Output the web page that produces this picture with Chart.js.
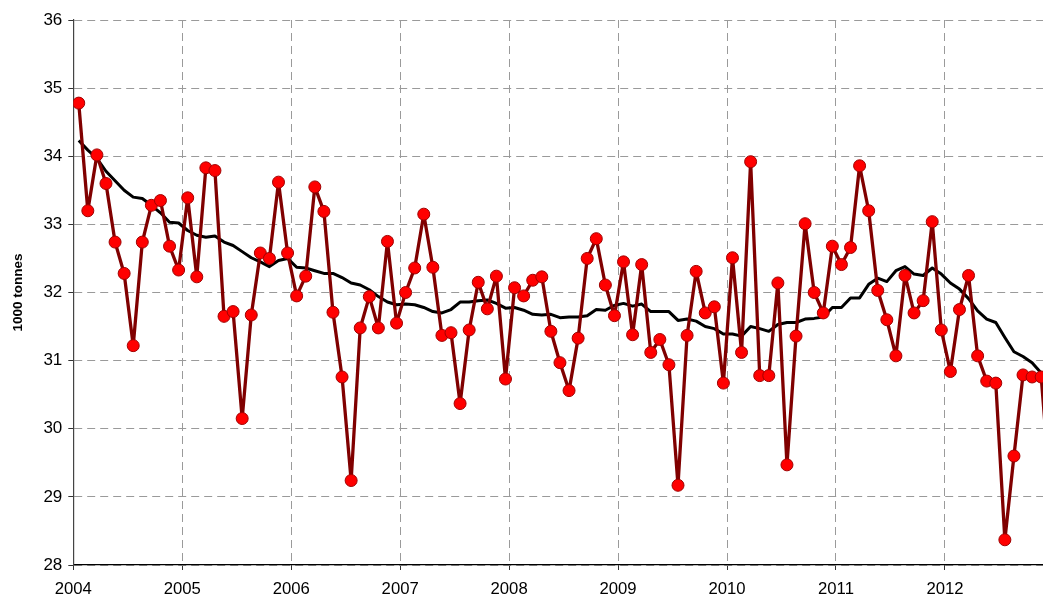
<!DOCTYPE html>
<html>
<head>
<meta charset="utf-8">
<title>1000 tonnes</title>
<script src="https://cdn.jsdelivr.net/npm/chart.js@4/dist/chart.umd.min.js"></script>
<style>
  html, body { margin: 0; padding: 0; background: #fff; }
  #wrap { width: 1043px; height: 599px; }
</style>
</head>
<body>
<div id="wrap"><canvas id="chart" width="1043" height="599"></canvas></div>
<script>
// monthly values, Jan 2004 .. Dec 2012
const monthly2004 = [34.78, 33.20, 34.02, 33.60, 32.74, 32.28, 31.22, 32.74, 33.28, 33.35, 32.68, 32.33];
const monthly2005 = [33.39, 32.23, 33.83, 33.79, 31.65, 31.72, 30.15, 31.67, 32.58, 32.50, 33.62, 32.58];
const monthly2006 = [31.95, 32.24, 33.55, 33.19, 31.71, 30.76, 29.24, 31.48, 31.94, 31.48, 32.75, 31.55];
const monthly2007 = [32.00, 32.36, 33.15, 32.37, 31.37, 31.41, 30.37, 31.45, 32.15, 31.76, 32.24, 30.73];
const monthly2008 = [32.07, 31.95, 32.18, 32.23, 31.43, 30.97, 30.56, 31.33, 32.50, 32.79, 32.11, 31.66];
const monthly2009 = [32.45, 31.38, 32.41, 31.12, 31.31, 30.94, 29.17, 31.37, 32.31, 31.70, 31.79, 30.67];
const monthly2010 = [32.51, 31.12, 33.92, 30.78, 30.78, 32.14, 29.47, 31.36, 33.01, 32.00, 31.70, 32.68];
const monthly2011 = [32.41, 32.66, 33.86, 33.20, 32.03, 31.60, 31.07, 32.25, 31.70, 31.88, 33.04, 31.45];
const monthly2012 = [30.84, 31.75, 32.25, 31.07, 30.70, 30.67, 28.37, 29.60, 30.79, 30.76, 30.76, 29.10];

// the black trend line
const trend2004 = [34.23, 34.09, 33.97, 33.78, 33.64, 33.50, 33.40, 33.38, 33.28, 33.17, 33.03, 33.02];
const trend2005 = [32.91, 32.84, 32.81, 32.83, 32.74, 32.69, 32.60, 32.51, 32.45, 32.38, 32.47, 32.50];
const trend2006 = [32.37, 32.36, 32.32, 32.28, 32.28, 32.22, 32.14, 32.11, 32.04, 31.94, 31.86, 31.82];
const trend2007 = [31.83, 31.82, 31.78, 31.72, 31.70, 31.75, 31.86, 31.86, 31.88, 31.89, 31.84, 31.77];
const trend2008 = [31.78, 31.74, 31.68, 31.67, 31.68, 31.63, 31.64, 31.64, 31.66, 31.75, 31.74, 31.81];
const trend2009 = [31.84, 31.80, 31.83, 31.72, 31.72, 31.72, 31.59, 31.61, 31.58, 31.50, 31.47, 31.39];
const trend2010 = [31.39, 31.36, 31.50, 31.47, 31.43, 31.53, 31.56, 31.56, 31.61, 31.62, 31.64, 31.78];
const trend2011 = [31.78, 31.92, 31.92, 32.12, 32.21, 32.16, 32.32, 32.38, 32.27, 32.25, 32.36, 32.27];
const trend2012 = [32.14, 32.05, 31.91, 31.73, 31.61, 31.56, 31.34, 31.13, 31.06, 30.97, 30.82, null];

const years = [2004, 2005, 2006, 2007, 2008, 2009, 2010, 2011, 2012];
const yTicks = [28, 29, 30, 31, 32, 33, 34, 35, 36];

const monthly = [].concat(monthly2004, monthly2005, monthly2006, monthly2007, monthly2008,
  monthly2009, monthly2010, monthly2011, monthly2012);
const trend = [].concat(trend2004, trend2005, trend2006, trend2007, trend2008,
  trend2009, trend2010, trend2011, trend2012);

// each month sits a bit after the start of its month on the year axis
const toPoints = (arr) => arr.map((v, i) => ({ x: 2004 + (i + 0.6) / 12, y: v }));

const FONT = "'Liberation Sans', Arial, sans-serif";

new Chart(document.getElementById("chart"), {
  type: "line",
  data: {
    datasets: [
      {
        label: "monthly",
        data: toPoints(monthly),
        borderColor: "#800000",
        borderWidth: 3.3,
        borderJoinStyle: "round",
        pointRadius: 6,
        pointBackgroundColor: "#ff0000",
        pointBorderColor: "#a00000",
        pointBorderWidth: 1,
        tension: 0,
      },
      {
        label: "trend",
        data: toPoints(trend),
        borderColor: "#000000",
        borderWidth: 3,
        borderJoinStyle: "round",
        pointRadius: 0,
        tension: 0,
        spanGaps: false,
      },
    ],
  },
  options: {
    responsive: false,
    animation: false,
    devicePixelRatio: 1,
    // no extra room for the markers, the plot runs to the right edge
    layout: { autoPadding: false, padding: { top: 20, right: 0, bottom: 0, left: 0 } },
    plugins: {
      legend: { display: false },
      tooltip: { enabled: false },
    },
    scales: {
      x: {
        type: "linear",
        min: 2004,
        max: 2012.9,
        afterBuildTicks: (scale) => { scale.ticks = years.map((v) => ({ value: v })); },
        afterFit: (scale) => { scale.height = 34; },
        grid: {
          color: "#9a9a9a",
          tickColor: "#333",
          tickLength: 5,
        },
        border: { color: "#000", width: 1.2, dash: [8, 5] },
        ticks: {
          color: "#000",
          font: { family: FONT, size: 16.7 },
          padding: 9,
          callback: (v) => String(v),
        },
      },
      y: {
        min: 28,
        max: 36,
        afterBuildTicks: (scale) => { scale.ticks = yTicks.map((v) => ({ value: v })); },
        afterFit: (scale) => { scale.width = 73.3; },
        grid: {
          color: "#9a9a9a",
          tickColor: "#333",
          tickLength: 5,
        },
        border: { color: "#444", width: 1.2, dash: [8, 5] },
        ticks: {
          color: "#000",
          font: { family: FONT, size: 17 },
          padding: 6,
        },
        title: {
          display: true,
          text: "1000 tonnes",
          color: "#000",
          font: { family: FONT, size: 13.5, weight: "bold" },
          padding: { top: 10, bottom: 0 },
        },
      },
    },
  },
});
</script>
</body>
</html>
